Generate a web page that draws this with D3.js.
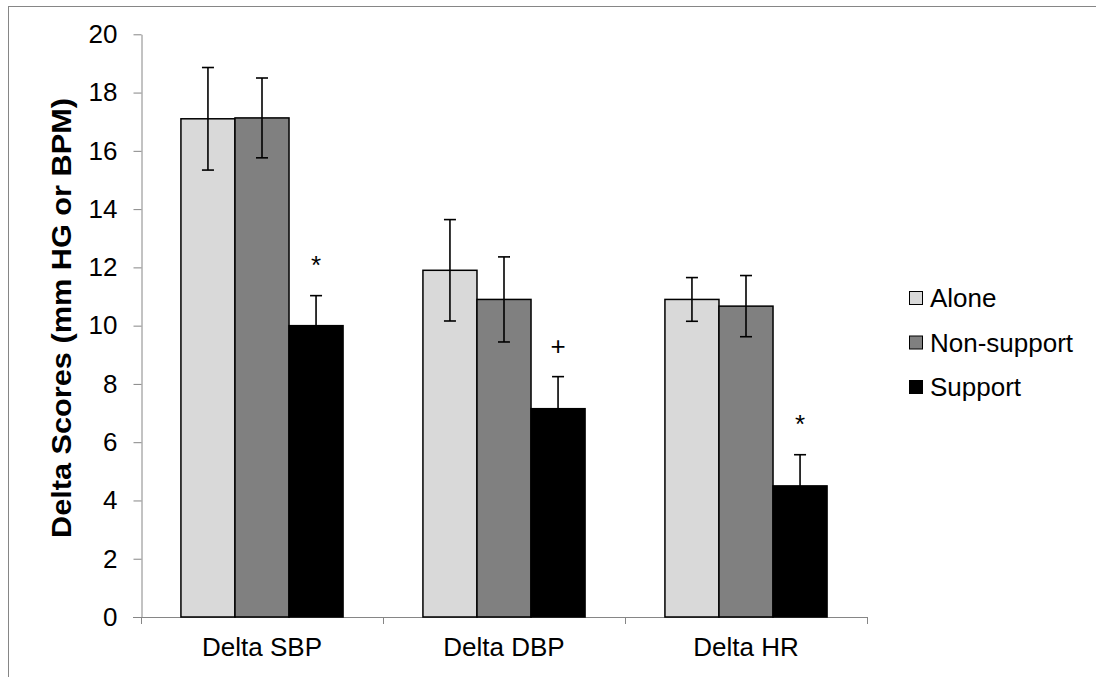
<!DOCTYPE html>
<html><head><meta charset="utf-8">
<script src="https://cdn.jsdelivr.net/npm/d3@7"></script>
<style>body{margin:0;background:#fff;} text{font-family:"Liberation Sans",Arial,sans-serif;}</style>
</head><body>
<svg id="chart" width="1096" height="677"></svg>
<script>
const categories = ["Delta SBP", "Delta DBP", "Delta HR"];
const seriesNames = ["Alone", "Non-support", "Support"];
const seriesColors = ["#d9d9d9", "#808080", "#000000"];
const aloneValues = [17.10, 11.90, 10.90];
const nonSupportValues = [17.13, 10.90, 10.67];
const supportValues = [10.00, 7.15, 4.50];
const aloneErrors = [1.76, 1.74, 0.75];
const nonSupportErrors = [1.37, 1.46, 1.05];
const supportErrors = [1.03, 1.10, 1.07];
const significance = ["*", "+", "*"];
const yTicks = [0, 2, 4, 6, 8, 10, 12, 14, 16, 18, 20];

const FS = 26;
const svg = d3.select("#chart");
svg.append("rect").attr("x", 8.5).attr("y", 6.5).attr("width", 1200).attr("height", 800)
  .attr("fill", "none").attr("stroke", "#868686").attr("stroke-width", 1);

const x0 = d3.scaleBand().domain(categories).range([141, 867]).paddingInner(0.33).paddingOuter(0.165);
const x1 = d3.scaleBand().domain(seriesNames).range([0, x0.bandwidth()]);
const y = d3.scaleLinear().domain([0, 20]).range([617, 34.3]);

const values = [aloneValues, nonSupportValues, supportValues];
const errors = [aloneErrors, nonSupportErrors, supportErrors];
const rows = [];
categories.forEach((c, ci) => seriesNames.forEach((s, si) => rows.push({c, s, si, v: values[si][ci], e: errors[si][ci]})));

// Axes
const yAxis = svg.append("g").attr("transform", "translate(141.5,0)")
  .call(d3.axisLeft(y).tickValues(yTicks).tickSize(8).tickPadding(16).tickSizeOuter(0));
yAxis.select(".domain").attr("stroke", "#868686");
yAxis.selectAll(".tick line").attr("stroke", "#868686");
yAxis.selectAll(".tick text").attr("font-size", FS).attr("fill", "#000")
  .style("font-family", "'Liberation Sans', Arial, sans-serif");

const xAxis = svg.append("g").attr("transform", "translate(0,617.5)")
  .call(d3.axisBottom(x0).tickSize(0).tickPadding(20));
xAxis.select(".domain").remove();
svg.append("line").attr("x1", 133).attr("x2", 867).attr("y1", 617.5).attr("y2", 617.5).attr("stroke", "#868686");
const boundaries = [141, 141 + x0.step(), 141 + 2 * x0.step(), 867];
svg.selectAll(".xb").data(boundaries).enter().append("line")
  .attr("x1", d => Math.round(d) + 0.5).attr("x2", d => Math.round(d) + 0.5)
  .attr("y1", 617).attr("y2", 624).attr("stroke", "#868686");
xAxis.selectAll(".tick text").attr("font-size", FS).attr("fill", "#000").attr("dy", "0.71em")
  .style("font-family", "'Liberation Sans', Arial, sans-serif");

// Bars
svg.selectAll(".bar").data(rows).enter().append("rect")
  .attr("x", d => x0(d.c) + x1(d.s))
  .attr("y", d => y(d.v))
  .attr("width", x1.bandwidth())
  .attr("height", d => y(0) - y(d.v))
  .attr("fill", d => seriesColors[d.si])
  .attr("stroke", "#000").attr("stroke-width", 1.5);

// Error bars
const cx = d => x0(d.c) + x1(d.s) + x1.bandwidth() / 2;
const eb = svg.selectAll(".err").data(rows).enter().append("g")
  .attr("stroke", "#000").attr("stroke-width", 1.6);
eb.append("line").attr("x1", cx).attr("x2", cx)
  .attr("y1", d => y(d.v + d.e)).attr("y2", d => y(d.v - d.e));
eb.append("line").attr("x1", d => cx(d) - 6).attr("x2", d => cx(d) + 6)
  .attr("y1", d => y(d.v + d.e)).attr("y2", d => y(d.v + d.e));
eb.append("line").attr("x1", d => cx(d) - 6).attr("x2", d => cx(d) + 6)
  .attr("y1", d => y(d.v - d.e)).attr("y2", d => y(d.v - d.e));

// Significance markers
svg.selectAll(".sig").data(categories).enter().append("text")
  .attr("x", (c) => x0(c) + x1("Support") + x1.bandwidth() / 2)
  .attr("y", (c, i) => y(supportValues[i] + supportErrors[i]) - 22)
  .attr("text-anchor", "middle").attr("font-size", FS)
  .text((c, i) => significance[i]);

// Y label
svg.append("text").attr("transform", "translate(71,318) rotate(-90)")
  .attr("text-anchor", "middle").attr("font-size", 27).attr("font-weight", "bold")
  .attr("textLength", 440).attr("lengthAdjust", "spacingAndGlyphs")
  .text("Delta Scores (mm HG or BPM)");

// Legend
const legend = svg.selectAll(".leg").data(seriesNames).enter().append("g")
  .attr("transform", (d, i) => `translate(909,${298 + i * 44.5})`);
legend.append("rect").attr("x", 0.5).attr("y", -6.5).attr("width", 13).attr("height", 13)
  .attr("fill", (d, i) => seriesColors[i]).attr("stroke", "#000").attr("stroke-width", 1);
legend.append("text").attr("x", 21).attr("y", 9).attr("font-size", FS).text(d => d);
</script>
</body></html>
